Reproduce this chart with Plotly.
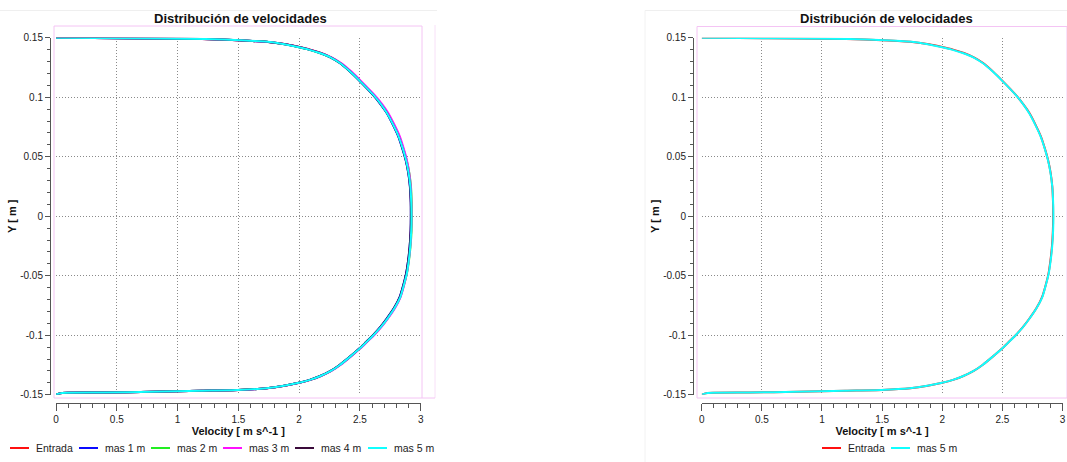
import plotly.graph_objects as go

# ---------------- data ----------------
y_pos = [0.1499, 0.1497, 0.1494, 0.1489, 0.1478, 0.1464, 0.1445, 0.1422, 0.1400, 0.1371,
         0.1333, 0.1287, 0.1215, 0.1133, 0.1021, 0.0940, 0.0867, 0.0770, 0.0671, 0.0570,
         0.0472, 0.0360, 0.0248, 0.0120, 0.0,
         -0.0120, -0.0256, -0.0370, -0.0480, -0.0580, -0.0680, -0.0770, -0.0860, -0.0930,
         -0.1000, -0.1055, -0.1110, -0.1180, -0.1250, -0.1300, -0.1343, -0.1375, -0.1400,
         -0.1425, -0.1446, -0.1460, -0.1466, -0.1475, -0.1482, -0.1486, -0.1499]

entrada = [0.00, 0.30, 0.80, 1.20, 1.50, 1.75, 1.89, 2.00, 2.09, 2.18,
           2.267, 2.340, 2.423, 2.505, 2.610, 2.675, 2.725, 2.775, 2.820, 2.853,
           2.880, 2.902, 2.915, 2.921, 2.922,
           2.920, 2.912, 2.900, 2.884, 2.860, 2.830, 2.785, 2.725, 2.672,
           2.610, 2.555, 2.500, 2.420, 2.335, 2.262, 2.176, 2.090, 2.000,
           1.880, 1.735, 1.500, 1.200, 0.800, 0.400, 0.050, 0.000]
mas_1 = [0.00, 0.32, 0.82, 1.22, 1.51, 1.75, 1.88, 1.99, 2.08, 2.17,
         2.260, 2.333, 2.417, 2.500, 2.605, 2.670, 2.720, 2.770, 2.815, 2.848,
         2.876, 2.898, 2.911, 2.918, 2.919,
         2.917, 2.909, 2.897, 2.880, 2.856, 2.826, 2.781, 2.720, 2.668,
         2.607, 2.552, 2.497, 2.418, 2.332, 2.258, 2.172, 2.086, 1.995,
         1.875, 1.730, 1.495, 1.190, 0.790, 0.390, 0.050, 0.000]
mas_2 = [0.00, 0.31, 0.81, 1.21, 1.50, 1.74, 1.88, 1.99, 2.08, 2.17,
         2.262, 2.336, 2.420, 2.503, 2.610, 2.676, 2.724, 2.776, 2.822, 2.856,
         2.884, 2.907, 2.920, 2.926, 2.927,
         2.925, 2.916, 2.904, 2.887, 2.862, 2.832, 2.787, 2.727, 2.674,
         2.612, 2.557, 2.501, 2.421, 2.336, 2.263, 2.177, 2.091, 2.000,
         1.880, 1.735, 1.500, 1.200, 0.800, 0.400, 0.050, 0.000]
mas_3 = [0.00, 0.29, 0.79, 1.19, 1.49, 1.74, 1.89, 2.00, 2.09, 2.18,
         2.270, 2.345, 2.430, 2.512, 2.618, 2.684, 2.733, 2.783, 2.828, 2.860,
         2.886, 2.906, 2.918, 2.923, 2.924,
         2.922, 2.914, 2.902, 2.886, 2.863, 2.834, 2.790, 2.731, 2.678,
         2.616, 2.560, 2.505, 2.425, 2.340, 2.266, 2.180, 2.094, 2.004,
         1.884, 1.740, 1.505, 1.205, 0.805, 0.405, 0.050, 0.000]
mas_4 = [0.00, 0.30, 0.80, 1.20, 1.50, 1.75, 1.89, 2.00, 2.085, 2.175,
         2.263, 2.336, 2.420, 2.502, 2.607, 2.672, 2.722, 2.772, 2.817, 2.850,
         2.877, 2.899, 2.912, 2.918, 2.919,
         2.917, 2.909, 2.897, 2.881, 2.857, 2.828, 2.782, 2.722, 2.669,
         2.608, 2.553, 2.498, 2.419, 2.333, 2.259, 2.174, 2.088, 1.998,
         1.878, 1.733, 1.498, 1.198, 0.798, 0.398, 0.050, 0.000]
mas_5 = [0.00, 0.33, 0.83, 1.23, 1.52, 1.76, 1.88, 1.99, 2.08, 2.17,
         2.262, 2.336, 2.420, 2.503, 2.609, 2.674, 2.722, 2.773, 2.818, 2.852,
         2.879, 2.901, 2.915, 2.922, 2.924,
         2.922, 2.914, 2.902, 2.886, 2.861, 2.832, 2.786, 2.726, 2.673,
         2.611, 2.556, 2.500, 2.420, 2.335, 2.261, 2.175, 2.089, 1.998,
         1.876, 1.730, 1.493, 1.190, 0.790, 0.390, 0.050, 0.000]

left_series = [("Entrada", entrada, "#ff1010"), ("mas 1 m", mas_1, "#0a0aff"),
               ("mas 2 m", mas_2, "#22ee22"), ("mas 3 m", mas_3, "#ff10ff"),
               ("mas 4 m", mas_4, "#3a0a3a"), ("mas 5 m", mas_5, "#10ffff")]
right_series = [("Entrada", entrada, "#ff1010"), ("mas 5 m", mas_5, "#10ffff")]

title_text = "Distribución de velocidades"
x_title = "Velocity [ m s^-1 ]"
y_title = "Y [ m ]"
x_ticks = [0, 0.5, 1, 1.5, 2, 2.5, 3]
x_ticktext = ["0", "0.5", "1", "1.5", "2", "2.5", "3"]
y_ticks = [-0.15, -0.1, -0.05, 0, 0.05, 0.1, 0.15]
y_ticktext = ["-0.15", "-0.1", "-0.05", "0", "0.05", "0.1", "0.15"]

# ---------------- layout helpers ----------------
W, H = 1067, 462
px = lambda v: v / W
py = lambda v: 1 - v / H

FONT = "Liberation Sans, Arial, sans-serif"

fig = go.Figure()

for name, xs, col in left_series:
    fig.add_trace(go.Scatter(x=xs, y=y_pos, mode="lines", name=name, showlegend=False,
                             line=dict(color=col, width=2, shape="spline", smoothing=0.6),
                             xaxis="x", yaxis="y"))
for name, xs, col in right_series:
    fig.add_trace(go.Scatter(x=xs, y=y_pos, mode="lines", name=name, showlegend=False,
                             line=dict(color=col, width=2, shape="spline", smoothing=0.6),
                             xaxis="x2", yaxis="y2"))

ydom = [py(394.7), py(37.7)]
GRID = dict(showgrid=True, gridcolor="#8a8a8a", griddash="1px,2px", gridwidth=1)


def xaxis(dom, ypos_px):
    return dict(domain=dom, range=[0, 3], anchor="free", position=py(ypos_px),
                tickvals=x_ticks, ticktext=x_ticktext,
                showline=True, linecolor="#555", linewidth=1,
                ticks="outside", ticklen=7, tickcolor="#555", tickwidth=1,
                minor=dict(dtick=0.1, ticks="outside", ticklen=4, tickcolor="#555", showgrid=False),
                zeroline=False, tickfont=dict(family=FONT, size=10, color="#222"),
                title=dict(text="<b>" + x_title + "</b>", standoff=2,
                           font=dict(family=FONT, size=11, color="#111")), **GRID)


def yaxis(xpos_px):
    return dict(domain=ydom, range=[-0.15, 0.15], anchor="free", position=px(xpos_px),
                tickvals=y_ticks, ticktext=y_ticktext,
                showline=True, linecolor="#555", linewidth=1,
                ticks="outside", ticklen=5, tickcolor="#555", tickwidth=1,
                minor=dict(dtick=0.01, ticks="outside", ticklen=3, tickcolor="#555", showgrid=False),
                zeroline=False, tickfont=dict(family=FONT, size=10, color="#222"),
                title=dict(text="<b>" + y_title + "</b>", standoff=0,
                           font=dict(family=FONT, size=11, color="#111")), **GRID)


xa1 = xaxis([px(56), px(420.7)], 402.7)
xa2 = xaxis([px(701.7), px(1062.5)], 402.7)
ya1 = yaxis(50)
ya2 = yaxis(693)

shapes = []
# light outer frames
shapes.append(dict(type="line", xref="paper", yref="paper", x0=0, x1=px(437), y0=py(10.5), y1=py(10.5),
                   line=dict(color="#efefef", width=1), layer="below"))
shapes.append(dict(type="line", xref="paper", yref="paper", x0=px(645), x1=1, y0=py(10.5), y1=py(10.5),
                   line=dict(color="#efefef", width=1), layer="below"))
shapes.append(dict(type="line", xref="paper", yref="paper", x0=px(645), x1=px(645), y0=0, y1=py(10.5),
                   line=dict(color="#f2f2f2", width=1), layer="below"))
# pink plot frames
pink = "#f4c4f4"
for (l, r, t, b) in [(54, 422, 26, 398), (697, 1067, 26.5, 398)]:
    shapes.append(dict(type="rect", xref="paper", yref="paper", x0=px(l), x1=px(r), y0=py(b), y1=py(t),
                       line=dict(color=pink, width=1), layer="below"))
shapes.append(dict(type="line", xref="paper", yref="paper", x0=px(435), x1=px(435), y0=py(398), y1=py(25),
                   line=dict(color="#f8e0f8", width=1), layer="below"))
shapes.append(dict(type="line", xref="paper", yref="paper", x0=px(422), x1=px(435), y0=py(398), y1=py(398),
                   line=dict(color=pink, width=1), layer="below"))

annotations = [
    dict(text="<b>" + title_text + "</b>", x=px(240), y=py(19), xref="paper", yref="paper",
         showarrow=False, xanchor="center", yanchor="middle",
         font=dict(family=FONT, size=13, color="#111")),
    dict(text="<b>" + title_text + "</b>", x=px(886), y=py(19), xref="paper", yref="paper",
         showarrow=False, xanchor="center", yanchor="middle",
         font=dict(family=FONT, size=13, color="#111")),
]

# legends (drawn below each chart)
LEG_Y = 448
left_leg_x = [10, 79, 151, 223, 295, 368]
right_leg_x = [822, 891]
for (name, _, col), lx in list(zip(left_series, left_leg_x)) + list(zip(right_series, right_leg_x)):
    shapes.append(dict(type="line", xref="paper", yref="paper", x0=px(lx), x1=px(lx + 19),
                       y0=py(LEG_Y), y1=py(LEG_Y), line=dict(color=col, width=2)))
    annotations.append(dict(text=name, x=px(lx + 24), y=py(LEG_Y), xref="paper", yref="paper",
                            showarrow=False, xanchor="left", yanchor="middle",
                            font=dict(family=FONT, size=10.5, color="#222")))

fig.update_layout(
    width=W, height=H, autosize=False,
    margin=dict(l=0, r=0, t=0, b=0, autoexpand=False),
    paper_bgcolor="white", plot_bgcolor="white",
    xaxis=xa1, yaxis=ya1, xaxis2=xa2, yaxis2=ya2,
    showlegend=False, hovermode=False,
    shapes=shapes, annotations=annotations,
)

fig.write_html("out.html", config={"displayModeBar": False},
               post_script="document.body.style.margin='0';document.body.style.overflow='hidden';")
